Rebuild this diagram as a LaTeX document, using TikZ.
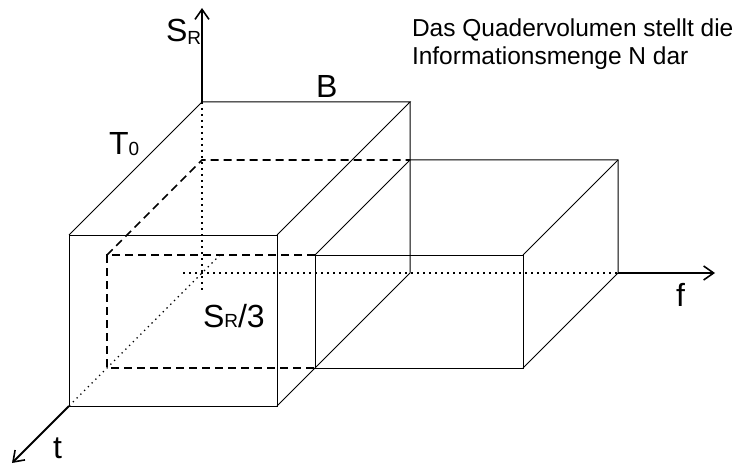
\documentclass[tikz,border=0pt]{standalone}
\usepackage{fontspec}
\setmainfont{Liberation Sans}
\usetikzlibrary{arrows.meta}
\newcommand{\bigf}{\fontsize{32}{38}\selectfont}
\newcommand{\subf}{\fontsize{19}{22}\selectfont}
\tikzset{
  edge/.style={line width=1pt, line join=miter},
  hidden/.style={line width=1.6pt, dash pattern=on 8pt off 5pt},
  hdot/.style={line width=2pt, dash pattern=on 2pt off 4pt},
  tdot/.style={line width=1.3pt, dash pattern=on 1.3pt off 4pt},
  axis/.style={line width=1.8pt, -{Straight Barb[length=10pt,width=14pt,line width=1.6pt]}},
  lbl/.style={anchor=base west, inner sep=0pt, outer sep=0pt},
  note/.style={lbl, font=\fontsize{24.5}{28}\selectfont}
}
\begin{document}
\begin{tikzpicture}[x=1pt,y=-1pt]
\useasboundingbox (0,0) rectangle (755,468);
% big box
\coordinate (A1) at (69,235);
\coordinate (A2) at (277,235);
\coordinate (A3) at (277,406);
\coordinate (A4) at (69,406);
\coordinate (B1) at (202,102);
\coordinate (B2) at (410,102);
\coordinate (B3) at (410,273);
\coordinate (O)  at (202,273);
% small box
\coordinate (C1) at (107,255);
\coordinate (C2) at (523,255);
\coordinate (C3) at (523,368);
\coordinate (C4) at (107,368);
\coordinate (D1) at (202,160);
\coordinate (D2) at (618,160);
\coordinate (D3) at (618,273);
\coordinate (E1) at (315,255);
\coordinate (E2) at (315,368);
\coordinate (F1) at (410,160);
% axis ends
\coordinate (Stop) at (202,8);
\coordinate (Vend) at (202,290);
\coordinate (Hbeg) at (183,273);
\coordinate (Dbeg) at (220,255);
\coordinate (Fend) at (715,273);
\coordinate (Tend) at (12,463);

% dotted axis parts
\draw[hdot] (B1) -- (Vend);
\draw[hdot] (Hbeg) -- (D3);
\draw[tdot] (Dbeg) -- (A4);

% hidden edges
\draw[hidden] (E1) -- (C1) -- (C4) -- (E2);
\draw[hidden] (C1) -- (D1) -- (F1);

% big box
\draw[edge] (A1) -- (A2) -- (A3) -- (A4) -- cycle;
\draw[edge] (A1) -- (B1) -- (B2) -- (A2);
\draw[edge] (B2) -- (B3) -- (A3);

% small box visible
\draw[edge] (E1) -- (C2) -- (C3) -- (E2) -- cycle;
\draw[edge] (F1) -- (E1);
\draw[edge] (F1) -- (D2) -- (D3) -- (C3);
\draw[edge] (C2) -- (D2);

% axes
\draw[axis] (B1) -- (Stop);
\draw[axis] (D3) -- (Fend);
\draw[axis] (A4) -- (Tend);

% labels
\node[lbl] (lS) at (166,42) {\bigf S\raisebox{-3pt}{\subf R}};
\node[lbl] (lB) at (316,98) {\bigf B};
\node[lbl] (lT) at (109,155) {\bigf T\raisebox{-1pt}{\subf 0}};
\node[lbl] (lSR3) at (203,327) {\bigf S{\subf R}/3};
\node[lbl] (lf) at (676,306) {\bigf f};
\node[lbl] (lt) at (53,458) {\bigf t};
\node[note] (txt1) at (412,37) {Das Quadervolumen stellt die};
\node[note] (txt2) at (412,65) {Informationsmenge N dar};
\end{tikzpicture}
\end{document}
